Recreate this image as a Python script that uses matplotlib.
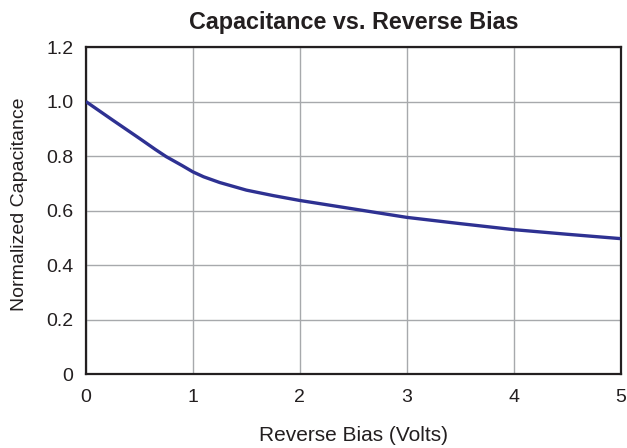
import matplotlib
matplotlib.use("Agg")
import matplotlib.pyplot as plt

plt.rcParams['font.family'] = ['Liberation Sans', 'DejaVu Sans']

bias_volts = [0.0, 0.25, 0.5, 0.65, 0.75, 0.9, 1.0, 1.1, 1.25, 1.5, 1.75, 2.0, 2.5, 3.0, 3.5, 4.0, 4.5, 5.0]
norm_cap = [1.0, 0.932, 0.865, 0.824, 0.798, 0.765, 0.742, 0.724, 0.703, 0.675, 0.655, 0.637, 0.606, 0.575, 0.552, 0.530, 0.513, 0.497]
x_ticks = [0, 1, 2, 3, 4, 5]
y_ticks = [0, 0.2, 0.4, 0.6, 0.8, 1.0, 1.2]
y_tick_labels = ['0', '0.2', '0.4', '0.6', '0.8', '1.0', '1.2']

fig = plt.figure(figsize=(6.27, 4.48), dpi=100)
ax = fig.add_axes([0.137, 0.165, 0.853, 0.730])
ax.plot(bias_volts, norm_cap, color='#2e3192', lw=2.4, solid_capstyle='butt',
        solid_joinstyle='round', zorder=3)
ax.set_xlim(0, 5)
ax.set_ylim(0, 1.2)
ax.set_xticks(x_ticks)
ax.set_yticks(y_ticks)
ax.set_yticklabels(y_tick_labels)
ax.grid(True, color='#a7a9ac', lw=1.0)
ax.set_axisbelow(True)
for s in ax.spines.values():
    s.set_linewidth(1.6)
    s.set_color('#231f20')
ax.tick_params(length=0, labelsize=14, colors='#231f20')
ax.tick_params(axis='x', pad=11)
ax.tick_params(axis='y', pad=9)
ax.set_title('Capacitance vs. Reverse Bias', fontsize=16.8, fontweight='bold', pad=13, color='#231f20')
ax.set_xlabel('Reverse Bias (Volts)', fontsize=15, labelpad=14, color='#231f20')
ax.set_ylabel('Normalized Capacitance', fontsize=14, color='#231f20')
ax.yaxis.set_label_coords(-0.108, 0.52)
fig.savefig('out.png', dpi=100)
